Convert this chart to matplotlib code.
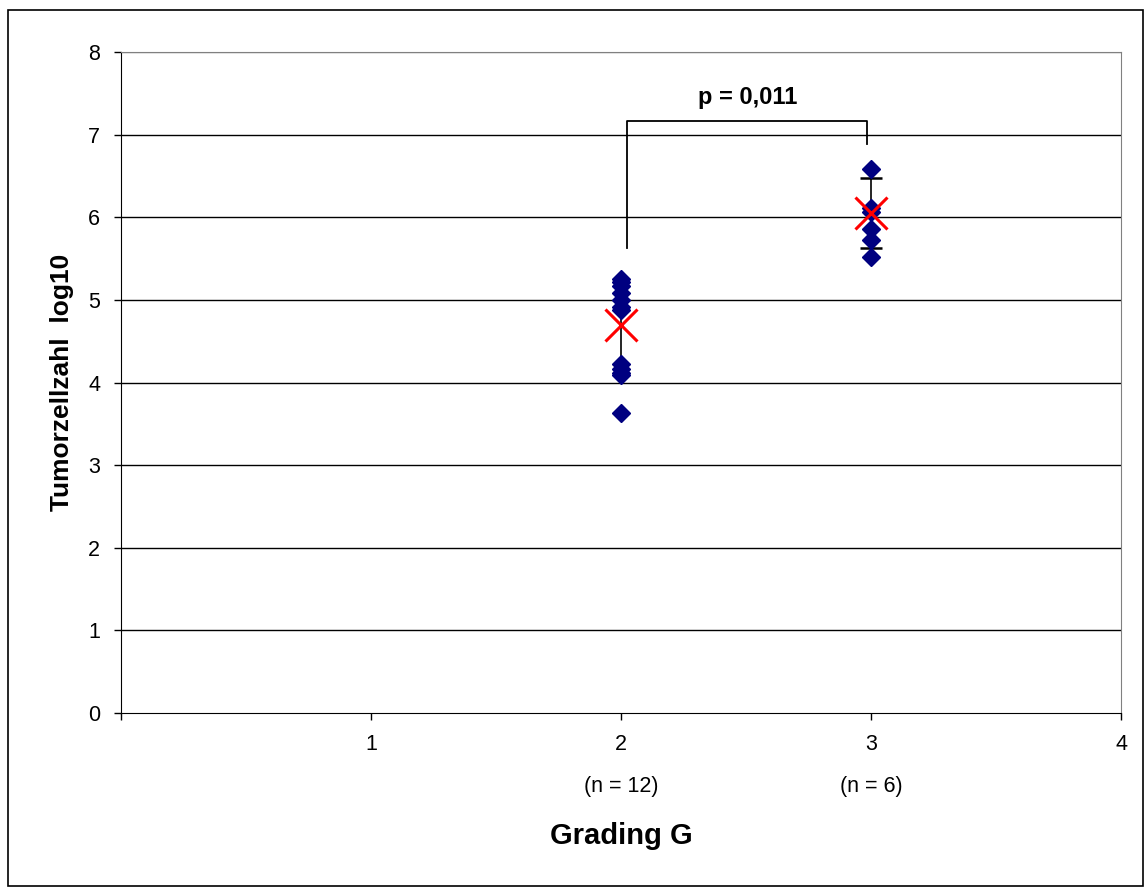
import matplotlib.pyplot as plt
from matplotlib.patches import Rectangle

plt.rcParams['font.family'] = ['Liberation Sans', 'DejaVu Sans']

# values (log10 tumour cell count)
grade2 = [5.25, 5.22, 5.17, 5.08, 5.0, 4.92, 4.88, 4.22, 4.17, 4.12, 4.09, 3.63]
grade3 = [6.59, 6.11, 6.07, 5.86, 5.72, 5.52]
groups = [2, 3]
means = [4.70, 6.05]
sds = [0.52, 0.42]
xticks = [0, 1, 2, 3, 4]
xlabels = ["", "1", "2\n\n(n = 12)", "3\n\n(n = 6)", "4"]
p_text = "p = 0,011"

fig = plt.figure(figsize=(11.44, 8.88), dpi=100)
ax = fig.add_axes([0.1058, 0.197, 0.8742, 0.7444])

# outer chart border
fig.patches.append(Rectangle((0.007, 0.002), 0.992, 0.987, transform=fig.transFigure,
                             fill=False, edgecolor="black", linewidth=1.2))

for y in range(1, 9):
    ax.axhline(y, color="black" if y < 8 else "#808080", linewidth=1, zorder=0)

# error bars (mean +/- sd); group 2 caps sit behind the diamonds
ax.errorbar(groups[:1], means[:1], yerr=sds[:1], fmt="none", ecolor="black",
            elinewidth=1.2, capsize=5, capthick=1.5, zorder=2)
ax.errorbar(groups[1:], means[1:], yerr=sds[1:], fmt="none", ecolor="black",
            elinewidth=1.2, capsize=8, capthick=1.8, zorder=2)

ax.plot([2] * len(grade2), grade2, linestyle="none", marker="D", markersize=9,
        color="#000080", zorder=3)
ax.plot([3] * len(grade3), grade3, linestyle="none", marker="D", markersize=9,
        color="#000080", zorder=3)
ax.plot(groups, means, linestyle="none", marker="x", markersize=23,
        markeredgewidth=2.2, color="red", zorder=4)

# significance bracket
ax.plot([2.024, 2.024, 2.984, 2.984], [5.63, 7.17, 7.17, 6.89], color="black",
        linewidth=1.3, zorder=5)
ax.text(2.505, 7.45, p_text, ha="center", va="center", fontsize=17, fontweight="bold")

ax.set_xlim(0, 4)
ax.set_ylim(0, 8)
ax.set_xticks(xticks)
ax.set_xticklabels(xlabels, fontsize=15.5, va="top", linespacing=1.0)
ax.set_yticks(range(0, 9))
ax.tick_params(axis="both", direction="out", length=5, width=1, labelsize=15.5)
ax.tick_params(axis="x", pad=10)
ax.tick_params(axis="y", pad=10)

for side in ["top", "right"]:
    ax.spines[side].set_color("#808080")
ax.spines["left"].set_color("black")
ax.spines["bottom"].set_color("black")

ax.set_xlabel("Grading G", fontsize=21, fontweight="bold", labelpad=18)
ax.set_ylabel("Tumorzellzahl  log10", fontsize=19, fontweight="bold", labelpad=10)

fig.savefig("out.png", dpi=100)
